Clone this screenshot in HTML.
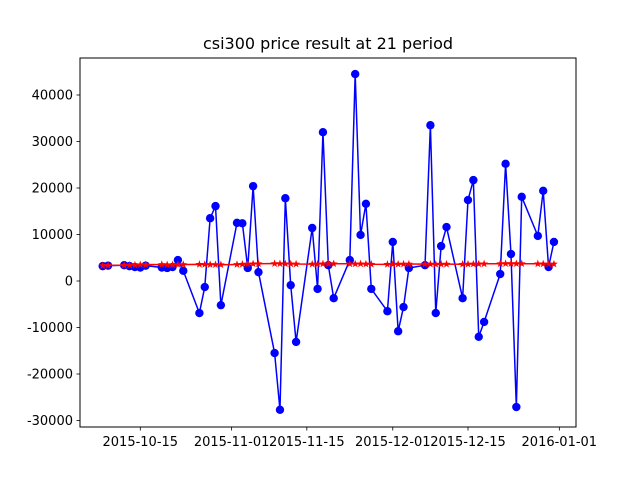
<!DOCTYPE html>
<html><head><meta charset="utf-8"><style>
body{margin:0;background:#fff;}
svg text{font-family:"DejaVu Sans","Liberation Sans",sans-serif;}
</style></head><body>
<svg id="chart" width="640" height="480" xmlns="http://www.w3.org/2000/svg">
<rect width="640" height="480" fill="#fff"/>
<text x="328" y="49" font-size="16" text-anchor="middle">csi300 price result at 21 period</text>
<g id="plot"></g>
<rect x="80" y="58" width="496" height="369" fill="none" stroke="#000" stroke-width="1"/>
<g id="axes"></g>
</svg>
<script>
const dates = ["2015-10-08","2015-10-09","2015-10-12","2015-10-13","2015-10-14","2015-10-15","2015-10-16",
"2015-10-19","2015-10-20","2015-10-21","2015-10-22","2015-10-23",
"2015-10-26","2015-10-27","2015-10-28","2015-10-29","2015-10-30",
"2015-11-02","2015-11-03","2015-11-04","2015-11-05","2015-11-06",
"2015-11-09","2015-11-10","2015-11-11","2015-11-12","2015-11-13",
"2015-11-16","2015-11-17","2015-11-18","2015-11-19","2015-11-20",
"2015-11-23","2015-11-24","2015-11-25","2015-11-26","2015-11-27",
"2015-11-30","2015-12-01","2015-12-02","2015-12-03","2015-12-04",
"2015-12-07","2015-12-08","2015-12-09","2015-12-10","2015-12-11",
"2015-12-14","2015-12-15","2015-12-16","2015-12-17","2015-12-18",
"2015-12-21","2015-12-22","2015-12-23","2015-12-24","2015-12-25",
"2015-12-28","2015-12-29","2015-12-30","2015-12-31"];
const predicted = [3200,3300,3400,3200,3000,2900,3300,
2900,2800,3000,4500,2200,
-6900,-1300,13500,16100,-5200,
12500,12400,2800,20400,1900,
-15500,-27700,17800,-900,-13100,
11400,-1700,32000,3400,-3700,
4500,44500,9900,16600,-1700,
-6500,8400,-10800,-5600,2800,
3400,33500,-6900,7500,11600,
-3700,17400,21700,-12000,-8800,
1500,25200,5800,-27100,18100,
9700,19400,3000,8400];
const actual = [3300,3350,3400,3420,3450,3500,3520,
3550,3500,3480,3520,3550,
3580,3560,3540,3520,3500,
3560,3600,3650,3700,3720,
3750,3720,3700,3680,3650,
3640,3650,3700,3720,3710,
3700,3680,3690,3650,3600,
3580,3600,3620,3630,3650,
3640,3620,3600,3610,3620,
3600,3620,3650,3680,3700,
3720,3750,3740,3730,3720,
3700,3680,3660,3650];
const yTicks = [-30000,-20000,-10000,0,10000,20000,30000,40000];
const xTicks = ["2015-10-15","2015-11-01","2015-11-15","2015-12-01","2015-12-15","2016-01-01"];

const NS="http://www.w3.org/2000/svg";
const base=Date.UTC(2015,9,15);
function dayOf(s){const p=s.split("-");return (Date.UTC(+p[0],+p[1]-1,+p[2])-base)/86400000;}
function xs(s){return 140.3+dayOf(s)*5.372;}
function ys(v){return 281-v*0.00465;}
function mk(tag,attrs,parent){const e=document.createElementNS(NS,tag);for(const k in attrs)e.setAttribute(k,attrs[k]);parent.appendChild(e);return e;}
const plot=document.getElementById("plot"), axes=document.getElementById("axes");

let d1=predicted.map((v,i)=>(i?"L":"M")+xs(dates[i]).toFixed(2)+","+ys(v).toFixed(2)).join("");
const l1=mk("path",{d:d1,fill:"none",stroke:"#0000ff","stroke-width":1.5,"stroke-linejoin":"round"},plot);


predicted.forEach((v,i)=>{
  const c=mk("circle",{cx:xs(dates[i]),cy:ys(v),r:4.2,fill:"#0000ff"},plot);
  
  
});
let d2=actual.map((v,i)=>(i?"L":"M")+xs(dates[i]).toFixed(2)+","+ys(v).toFixed(2)).join("");
const l2=mk("path",{d:d2,fill:"none",stroke:"#ff0000","stroke-width":1.5},plot);


function star(cx,cy,R){let p=[];for(let k=0;k<10;k++){const r=k%2?R*0.4:R;const a=-Math.PI/2+k*Math.PI/5;p.push((cx+r*Math.cos(a)).toFixed(2)+","+(cy+r*Math.sin(a)).toFixed(2));}return p.join(" ");}
actual.forEach((v,i)=>{
  const s=mk("polygon",{points:star(xs(dates[i]),ys(v),4.2),fill:"#ff0000"},plot);
  
  
});
yTicks.forEach(t=>{
  const y=ys(t);
  const tk=mk("line",{x1:76.5,x2:80,y1:y,y2:y,stroke:"#000","stroke-width":0.8},axes);
  
  
  const tx=mk("text",{x:73,y:y+4.5,"font-size":13,"text-anchor":"end"},axes);
  tx.textContent=t;
  
  
});
xTicks.forEach(t=>{
  const x=xs(t);
  const tk=mk("line",{x1:x,x2:x,y1:427,y2:430.5,stroke:"#000","stroke-width":0.8},axes);
  
  
  const tx=mk("text",{x:x,y:446,"font-size":13,"text-anchor":"middle"},axes);
  tx.textContent=t;
  
  
});
</script>
</body></html>
